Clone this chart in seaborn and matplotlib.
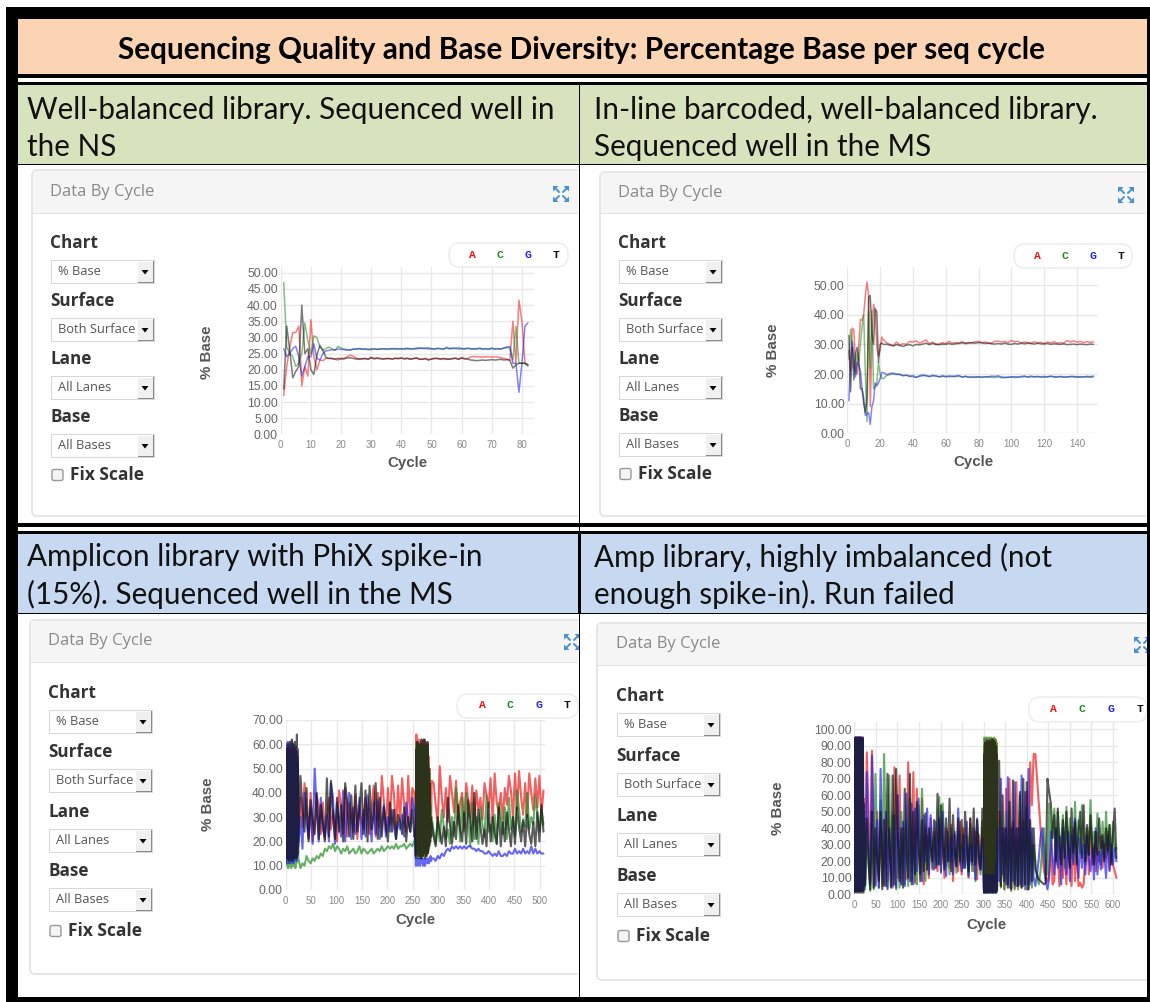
import numpy as np
import pandas as pd
import matplotlib
matplotlib.use("Agg")
import matplotlib.pyplot as plt
import seaborn as sns
from matplotlib.patches import Rectangle, FancyBboxPatch, Polygon

title = "Sequencing Quality and Base Diversity: Percentage Base per seq cycle"
captions = [
    ["Well-balanced library. Sequenced well in", "the NS"],
    ["In-line barcoded, well-balanced library.", "Sequenced well in the MS"],
    ["Amplicon library with PhiX spike-in", "(15%). Sequenced well in the MS"],
    ["Amp library, highly imbalanced (not", "enough spike-in). Run failed"],
]
bases = ["A", "C", "G", "T"]
control_labels = ["Chart", "Surface", "Lane", "Base"]
control_values = ["% Base", "Both Surface", "All Lanes", "All Bases"]

# each series is a list of stretches; the stretch start
# and step in cycles are in the *_runs lists
p1_runs = [(1, 1), (16, 1), (77, 1)]
p1_a = [[12, 21, 27, 31.5, 31.5, 33.5, 15, 21, 18, 35.5, 24, 20, 23, 22.8, 23.5],
        [23.5, 23.6, 23.2, 23, 23.6, 23.4, 24, 24.5, 24.2, 23.6, 23.2, 23.5, 23.4, 23.3, 23.9, 23.4, 23.8, 23.5, 23.3, 23.4, 23.5, 23.3, 23.6, 23.5, 23.7, 23.4, 23.6, 23.2, 23.5, 23.7, 23.2, 23.3, 23.5, 23.1, 23.3, 23.5, 23.6, 23.3, 23.5, 23.4, 23.2, 23.5, 23.6, 23.3, 23.8, 23.5, 23.4, 24, 24.1, 24, 24, 23.9, 24, 24, 23.9, 24, 23.9, 23.7, 23.5, 23.3, 23],
        [35, 22, 41.5, 35, 22, 21.5]]
p1_c = [[47, 27, 25, 24, 21, 22, 25, 34.5, 29, 25, 30.5, 30, 27, 26, 26.5],
        [27, 26.5, 26, 27.2, 26.7, 26.4, 26.3, 26.1, 26.3, 26.5, 26.4, 26.5, 26.3, 26.2, 26.5, 26.4, 26.3, 26.5, 26.4, 26.5, 26.4, 26.5, 26.3, 26.5, 26.4, 26.6, 26.4, 26.5, 26.4, 26.8, 26.5, 26.8, 26.5, 26.9, 26.5, 26.4, 26.6, 26.5, 26.4, 26.7, 26.4, 26.8, 26.5, 26.9, 26.6, 26.4, 26.7, 26.5, 26.4, 26.5, 26.7, 26.4, 26.5, 26.4, 26.7, 26.4, 26.5, 26.4, 26.7, 26.8, 26.7],
        [23, 33.5, 22, 22, 22, 21]]
p1_g = [[26.5, 24, 25, 26.5, 27.3, 24, 18, 21, 24, 24, 28, 23.5, 23, 25, 25.8],
        [26, 26.2, 26.1, 26.4, 26.3, 26.2, 26, 26.1, 26.4, 26.3, 26.6, 26.3, 26.5, 26.3, 26.2, 26.5, 26.3, 26.4, 26.5, 26.3, 26.4, 26.5, 26.6, 26.4, 26.5, 26.3, 26.7, 26.4, 26.5, 26.4, 26.8, 26.5, 26.7, 26.4, 26.5, 26.4, 26.6, 26.5, 26.4, 26.9, 26.6, 26.5, 26.7, 26.4, 26.5, 26.5, 26.6, 26.4, 26.5, 26.4, 26.6, 26.4, 26.5, 26.3, 26.6, 26.4, 26.5, 26.4, 26.7, 27.1, 27.2],
        [22, 22, 13, 22, 33.5, 34.5]]
p1_t = [[14, 33.5, 26, 17.5, 19.5, 21, 40, 25, 26.5, 20, 18.5, 24.5, 27.5, 26, 23.8],
        [23.5, 23.4, 23.3, 23.5, 23.3, 23.4, 23.6, 23.7, 23.5, 23.3, 23.4, 23.3, 23.5, 23.2, 23.7, 23.4, 23.5, 23.4, 23.3, 23.5, 23.4, 23.3, 23.5, 23.4, 23.6, 23.3, 23.5, 23.3, 23.4, 23.6, 23.3, 23.2, 23.4, 23, 23.3, 23.5, 23.4, 23.3, 23.4, 23.2, 23.3, 23.4, 23.5, 23.2, 23.6, 23.3, 23.3, 23, 22.9, 22.8, 22.9, 23, 22.9, 23, 23.1, 23, 23.1, 23.2, 23, 23.1, 22.9],
        [20.5, 21.5, 22, 22, 22, 21.5]]

p2_runs = [(1, 1), (24, 2)]
p2_a = [[28, 21, 35.5, 35, 22, 20, 30, 38.5, 38, 40, 46.5, 51, 46.5, 9, 30, 43.5, 41, 29, 26, 28, 32.5, 31.5],
        [30.5, 30, 29.5, 30.8, 29.8, 30.2, 30, 31, 30.8, 31.2, 30.4, 30.9, 31.5, 30.2, 30.8, 30, 30.1, 30.6, 30.3, 31, 30.4, 30.6, 30.5, 30.9, 30.2, 30.4, 30.6, 30.9, 31, 30.6, 30.8, 30.4, 30.5, 31, 31.1, 30.8, 31, 30.6, 31.3, 30.9, 31, 30.5, 30.8, 30.6, 30.4, 30.9, 30.5, 30.7, 30.3, 30.8, 30.5, 30.9, 30.4, 30.6, 30.5, 31.3, 30.8, 31.2, 30.7, 31, 30.6, 30.9, 30.7, 30.8]]
p2_c = [[25, 35, 29, 22, 20, 27, 24, 30, 36, 40, 20, 4, 41, 22, 41.5, 15, 15.5, 17, 24, 20, 18.5, 18.5],
        [19.5, 19.8, 20, 19.8, 20, 19.5, 19.6, 19.3, 19, 18.9, 19.2, 19.4, 19.5, 19.1, 19.3, 19.4, 19, 19.2, 19.3, 19, 19.2, 19.1, 19.3, 18.9, 19.2, 18.9, 19, 18.8, 19.1, 18.9, 19, 19.1, 18.9, 18.8, 19, 18.7, 18.9, 18.9, 19, 18.8, 19, 19.2, 19.3, 18.9, 19, 19.1, 19.2, 19, 18.9, 19.1, 19.2, 18.9, 19, 19.1, 18.9, 19, 19.2, 19, 19.1, 18.9, 19, 19, 18.9, 19]]
p2_g = [[11, 25, 31, 26, 19, 24, 23, 21, 15, 12, 6, 6.5, 7, 3, 9, 11, 17, 16, 17, 18.5, 20.5, 20.5],
        [19.8, 20.2, 20.3, 20, 19.8, 19.4, 19.6, 19.2, 19.5, 18.8, 19.4, 19.7, 19.4, 19.2, 19.6, 19.3, 19.1, 19.4, 19, 19.4, 19.2, 19.3, 19.5, 19, 19.2, 19, 18.9, 19.1, 19, 18.9, 19.1, 19, 19.3, 19.2, 19.4, 19, 18.8, 18.9, 19, 19.1, 18.9, 19, 19.2, 19, 19.3, 19, 19.1, 19, 19.2, 19, 19.3, 19.1, 19, 19.2, 19, 19, 19.1, 19.2, 18.9, 19.1, 19, 19.2, 19.1, 19.3]]
p2_t = [[33, 14, 29, 18, 27, 29, 25, 15, 15, 10, 7, 12, 46, 46.5, 33, 30, 42, 41, 24, 30, 30.5, 30],
        [30, 29.8, 29.5, 29.9, 29.6, 29.3, 29.7, 29.9, 29.5, 30, 29.8, 30.1, 30.4, 29.9, 30.3, 30, 29.9, 30.1, 30, 30.3, 30, 30.2, 30.3, 30.5, 30.4, 30.6, 30.5, 30.4, 30.6, 30.5, 30.3, 30.4, 30.2, 30.1, 30.3, 30.1, 30.4, 30.1, 30, 30.3, 30.1, 30.4, 30.2, 30.4, 30.3, 30.1, 30.4, 30.2, 30.1, 30.3, 30, 30.2, 30.1, 30, 30.2, 29.9, 30, 30.1, 29.9, 30.1, 30, 29.9, 30.1, 30]]

p3_runs = [(1, 1), (29, 4), (255, 1), (291, 4)]
p3_a = [[12, 58, 14, 57, 13, 59, 15, 56, 14, 58, 12, 57, 16, 59, 13, 56, 15, 58, 14, 57, 17, 55, 20, 52, 24],
        [38, 26, 44, 33, 22, 40, 20, 27, 39, 34, 23, 36, 21, 30, 38, 25, 33, 28, 20, 41, 35, 23, 42, 22, 36, 30, 24, 39, 21, 35, 28, 25, 38, 31, 23, 34, 43, 22, 40, 26, 47, 37, 24, 42, 27, 47, 39, 25, 43, 28, 46, 35, 24, 47, 29, 42, 40],
        [30, 14, 64, 15, 60, 13, 62, 16, 59, 14, 61, 13, 58, 15, 60, 14, 62, 16, 59, 13, 61, 15, 58, 14, 60, 16, 55, 18, 50, 20, 42, 25, 45],
        [44, 35, 27, 51, 38, 30, 42, 28, 47, 40, 32, 45, 27, 36, 40, 26, 44, 37, 30, 43, 27, 41, 33, 38, 29, 44, 39, 34, 46, 28, 48, 36, 32, 40, 29, 42, 35, 47, 41, 30, 48, 33, 49, 38, 31, 44, 30, 48, 40, 33, 46, 34, 47, 31, 41]]
p3_c = [[10, 56, 11, 55, 9, 57, 12, 54, 10, 56, 9, 55, 11, 57, 10, 54, 12, 56, 9, 55, 11, 53, 12, 50, 13],
        [9, 11, 10, 14, 12, 11, 13, 12, 14, 13, 15, 14, 17, 16, 18, 17, 19, 16, 18, 17, 15, 17, 16, 18, 15, 16, 17, 15, 16, 18, 15, 17, 16, 15, 16, 17, 15, 16, 17, 16, 18, 16, 17, 18, 17, 18, 17, 19, 17, 18, 18, 19, 17, 18, 19, 18, 20],
        [22, 13, 61, 14, 58, 13, 60, 15, 58, 13, 59, 14, 57, 13, 60, 15, 58, 14, 59, 13, 57, 14, 60, 15, 58, 16, 52, 17, 48, 19, 35, 22, 30],
        [24, 19, 28, 20, 33, 26, 21, 25, 19, 30, 22, 42, 34, 20, 38, 24, 40, 29, 18, 36, 21, 30, 19, 34, 27, 22, 39, 24, 27, 20, 31, 19, 36, 30, 23, 34, 21, 38, 25, 30, 22, 41, 33, 24, 28, 26, 40, 25, 30, 27, 39, 31, 24, 33, 27]]
p3_g = [[11, 60, 12, 61, 11, 59, 13, 60, 11, 58, 12, 61, 13, 59, 11, 60, 12, 58, 13, 59, 12, 57, 14, 55, 18],
        [30, 17, 40, 28, 21, 34, 19, 50, 33, 20, 38, 25, 22, 31, 20, 44, 38, 19, 36, 27, 22, 41, 20, 33, 40, 21, 34, 23, 29, 38, 21, 33, 22, 39, 30, 20, 36, 23, 37, 21, 26, 35, 22, 30, 24, 33, 26, 21, 28, 25, 31, 22, 36, 29, 24, 38, 32],
        [17, 10, 13, 11, 12, 10, 13, 11, 12, 10, 11, 13, 12, 11, 13, 10, 12, 11, 13, 10, 12, 11, 13, 12, 11, 13, 12, 11, 13, 12, 14, 12, 13],
        [13, 12, 14, 13, 15, 14, 16, 17, 16, 18, 17, 18, 17, 18, 17, 18, 17, 18, 18, 17, 17, 16, 17, 16, 16, 15, 15, 16, 15, 14, 15, 14, 16, 14, 14, 15, 14, 16, 15, 15, 17, 15, 16, 15, 17, 15, 16, 15, 18, 15, 17, 15, 16, 15, 15]]
p3_t = [[14, 58, 13, 60, 15, 59, 12, 61, 14, 60, 13, 62, 12, 59, 15, 60, 13, 61, 14, 60, 13, 64, 15, 58, 20],
        [47, 34, 24, 42, 20, 37, 29, 23, 40, 21, 35, 28, 20, 46, 22, 45, 30, 21, 38, 24, 35, 20, 44, 36, 22, 39, 21, 43, 24, 33, 44, 23, 41, 20, 43, 25, 31, 44, 21, 38, 22, 34, 27, 20, 36, 24, 33, 21, 31, 28, 23, 34, 20, 30, 24, 33, 22],
        [25, 14, 58, 16, 61, 15, 59, 14, 60, 16, 58, 13, 62, 15, 59, 14, 61, 16, 62, 15, 59, 14, 60, 16, 61, 15, 50, 18, 44, 20, 30, 22, 28],
        [22, 18, 30, 24, 19, 26, 18, 38, 27, 19, 28, 21, 35, 25, 20, 32, 19, 37, 28, 20, 40, 21, 33, 26, 19, 25, 18, 36, 20, 30, 23, 19, 34, 18, 28, 20, 32, 25, 18, 30, 19, 34, 26, 20, 29, 18, 31, 23, 19, 28, 18, 32, 20, 35, 24]]

p4_runs = [(1, 1), (25, 4), (300, 1), (336, 4)]
p4_a = [[2, 94, 3, 95, 2, 94, 3, 95, 2, 94, 3, 95, 2, 94, 3, 95, 2, 94, 3, 95, 4, 58],
        [10, 86, 52, 8, 87, 30, 6, 50, 12, 45, 28, 5, 48, 8, 40, 22, 4, 77, 55, 10, 72, 6, 40, 25, 9, 80, 47, 14, 74, 7, 64, 30, 13, 58, 6, 40, 22, 10, 46, 15, 38, 26, 14, 45, 18, 34, 10, 40, 28, 16, 42, 8, 36, 20, 14, 44, 12, 40, 18, 30, 10, 46, 25, 14, 38, 9, 36, 16, 40],
        [20, 2, 90, 3, 94, 2, 92, 3, 94, 2, 93, 4, 94, 3, 92, 2, 94, 3, 93, 4, 94, 2, 92, 3, 94, 2, 93, 3, 94, 2, 90, 3, 50],
        [50, 5, 40, 3, 64, 6, 70, 4, 42, 3, 68, 5, 50, 4, 45, 6, 62, 3, 80, 54, 85, 85, 70, 55, 40, 25, 14, 10, 8, 12, 30, 6, 8, 40, 22, 5, 35, 10, 28, 6, 38, 20, 5, 40, 8, 30, 5, 7, 4, 6, 25, 35, 12, 40, 18, 30, 14, 28, 20, 35, 16, 30, 22, 38, 15, 25, 18, 14, 10]]
p4_c = [[3, 93, 2, 94, 3, 93, 2, 94, 3, 93, 2, 94, 3, 93, 2, 94, 3, 93, 2, 94, 5, 50],
        [3, 40, 18, 2, 45, 3, 73, 30, 4, 57, 5, 85, 40, 4, 72, 5, 48, 20, 3, 40, 4, 50, 28, 6, 44, 5, 58, 8, 30, 15, 6, 54, 12, 64, 28, 8, 36, 14, 40, 16, 35, 22, 18, 59, 14, 55, 30, 17, 30, 12, 40, 20, 28, 13, 38, 18, 30, 24, 16, 35, 12, 42, 14, 30, 8, 38, 20, 12, 44],
        [45, 1, 95, 2, 94, 1, 95, 2, 94, 1, 95, 3, 94, 2, 95, 1, 94, 2, 95, 3, 93, 1, 94, 2, 95, 3, 94, 2, 93, 1, 92, 4, 45],
        [30, 4, 36, 3, 50, 6, 34, 2, 44, 4, 28, 3, 60, 5, 40, 3, 52, 6, 38, 4, 30, 20, 10, 6, 14, 28, 40, 20, 12, 55, 30, 40, 52, 18, 50, 22, 35, 48, 16, 53, 24, 46, 30, 20, 56, 22, 45, 25, 54, 36, 18, 40, 24, 57, 22, 38, 26, 49, 30, 18, 44, 22, 50, 24, 42, 20, 44, 26, 28]]
p4_g = [[2, 95, 2, 95, 3, 95, 2, 95, 2, 95, 3, 95, 2, 95, 2, 95, 3, 94, 2, 95, 3, 46],
        [5, 74, 30, 6, 84, 40, 5, 45, 4, 76, 25, 6, 50, 3, 40, 18, 5, 48, 4, 60, 22, 6, 44, 5, 61, 30, 8, 55, 6, 52, 14, 58, 26, 8, 48, 20, 52, 12, 48, 25, 15, 44, 18, 46, 13, 50, 22, 11, 38, 20, 35, 12, 38, 17, 52, 24, 14, 36, 16, 44, 11, 30, 18, 40, 9, 46, 20, 15, 34],
        [3, 1, 10, 2, 12, 1, 9, 2, 11, 1, 8, 2, 12, 1, 9, 2, 11, 3, 8, 1, 12, 2, 9, 1, 11, 2, 10, 1, 12, 2, 20, 3, 40],
        [8, 70, 12, 40, 6, 71, 4, 40, 8, 68, 5, 40, 6, 72, 5, 62, 3, 76, 6, 40, 10, 5, 12, 22, 35, 40, 25, 8, 3, 10, 38, 22, 12, 40, 16, 35, 6, 40, 26, 12, 38, 8, 36, 18, 46, 24, 10, 34, 16, 30, 12, 36, 22, 14, 28, 9, 40, 12, 26, 15, 32, 24, 10, 36, 14, 30, 18, 28, 20]]
p4_t = [[1, 95, 2, 95, 1, 95, 2, 94, 1, 95, 2, 95, 1, 95, 2, 94, 1, 95, 2, 94, 1, 55],
        [6, 46, 20, 3, 50, 4, 40, 22, 8, 50, 3, 45, 5, 73, 30, 4, 72, 6, 76, 35, 8, 40, 4, 64, 25, 10, 73, 6, 50, 12, 56, 30, 8, 45, 14, 49, 15, 40, 28, 20, 45, 16, 61, 18, 54, 30, 15, 46, 20, 58, 14, 48, 26, 17, 46, 20, 45, 16, 50, 30, 14, 46, 20, 52, 18, 45, 24, 15, 52],
        [30, 1, 85, 2, 92, 1, 90, 2, 93, 1, 92, 2, 91, 1, 93, 2, 92, 1, 90, 2, 94, 1, 91, 2, 93, 1, 92, 2, 90, 1, 85, 2, 48],
        [81, 5, 60, 8, 40, 4, 56, 3, 69, 6, 40, 5, 62, 4, 70, 6, 68, 3, 45, 8, 40, 15, 12, 9, 8, 7, 6, 7, 70, 62, 55, 34, 48, 20, 52, 30, 18, 45, 22, 50, 28, 16, 52, 25, 44, 18, 38, 50, 22, 54, 20, 42, 24, 48, 30, 18, 38, 24, 46, 28, 36, 20, 40, 26, 42, 18, 36, 52, 22]]

# axes box in pixels (left, top, right, bottom), axis ranges and ticks per panel
panels = [
    dict(runs=p1_runs, series=[p1_a, p1_c, p1_g, p1_t], box=(280.7, 267, 534, 434.3), xmax=84, ymax=51.8,
         xticks=range(0, 81, 10), yticks=range(0, 51, 5), card=(32, 170, 578, 516), head=213, ty=192, tx=50,
         rows=[243, 301, 359, 417], fix=475, icon=(561, 194), pill=(449, 243, 568, 267), letters=[472, 500, 528, 556],
         ylab=(207, 352), xlab=(407, 463), lw=1.1, alpha=0.55),
    dict(runs=p2_runs, series=[p2_a, p2_c, p2_g, p2_t], box=(847.3, 266.7, 1098.3, 433.3), xmax=153, ymax=56.2,
         xticks=range(0, 141, 20), yticks=range(0, 51, 10), card=(600, 172, 1146, 516), head=213, ty=193, tx=618,
         rows=[243, 301, 359, 416], fix=474, icon=(1126, 195), pill=(1014, 244, 1132, 268), letters=[1037, 1065, 1093, 1121],
         ylab=(773, 350), xlab=(973, 462), lw=1.1, alpha=0.55),
    dict(runs=p3_runs, series=[p3_a, p3_c, p3_g, p3_t], box=(285.7, 720, 545, 890), xmax=510, ymax=70,
         xticks=range(0, 501, 50), yticks=range(0, 71, 10), card=(30, 620, 578, 974), head=662, ty=641, tx=48,
         rows=[693, 752, 812, 871], fix=931, icon=(572, 642), pill=(457, 694, 578, 718), letters=[482, 510, 539, 567],
         ylab=(208, 804), xlab=(415, 920), lw=1.5, alpha=0.68),
    dict(runs=p4_runs, series=[p4_a, p4_c, p4_g, p4_t], box=(854.3, 721.7, 1117.7, 894.3), xmax=611, ymax=104.6,
         xticks=range(0, 601, 50), yticks=range(0, 101, 10), card=(597, 623, 1147, 980), head=665, ty=644, tx=616,
         rows=[696, 756, 816, 876], fix=936, icon=(1142, 645), pill=(1029, 697, 1147, 722), letters=[1053, 1082, 1111, 1140],
         ylab=(778, 808), xlab=(986, 925), lw=1.5, alpha=0.68),
]

base_colors = {"A": "#f01414", "C": "#1f8a1f", "G": "#2020e8", "T": "#111111"}

W, H = 1150, 1002
sns.set_theme(style="white")
fig = plt.figure(figsize=(W / 100, H / 100), dpi=100, facecolor="white")
bg = fig.add_axes([0, 0, 1, 1])
bg.set_xlim(0, W)
bg.set_ylim(H, 0)
bg.axis("off")


def rect(x0, y0, x1, y1, color, z=1, **kw):
    bg.add_patch(Rectangle((x0, y0), x1 - x0, y1 - y0, facecolor=color, edgecolor="none", zorder=z, **kw))


def draw_frame():
    rect(6, 7, 18, 1002, "black")
    rect(6, 7, W, 19, "black")
    rect(6, 997, W, H, "black", z=8)
    rect(1147, 7, W, H, "black", z=8)
    rect(18, 19, 1147, 74, "#fbd4b4")
    rect(18, 74, 1147, 78, "black")
    rect(18, 82, 1147, 85, "black")
    rect(18, 85, 1147, 164, "#d7e3bc")
    rect(18, 164, 1147, 165.3, "black")
    rect(18, 523, 1147, 527, "black", z=2)
    rect(18, 531, 1147, 534, "black", z=2)
    rect(18, 534, 1147, 613, "#c6d9f1")
    rect(18, 613, 1147, 614, "black")
    rect(579, 85, 580, 997, "black", z=6)
    rect(578, 534, 580.5, 613, "black", z=6)
    bg.text(581, 50, title, ha="center", va="center", family="Lato", weight="bold", fontsize=21.4, color="black")
    for i, lines in enumerate(captions):
        x = 27 if i % 2 == 0 else 594
        y = 110 if i < 2 else 557
        bg.text(x, y, lines[0], ha="left", va="center", family="Lato", fontsize=21.3, color="#111111")
        bg.text(x, y + 37, lines[1], ha="left", va="center", family="Lato", fontsize=21.3, color="#111111")


def draw_icon(cx, cy, clip_x):
    clip = Rectangle((0, 0), clip_x, H, transform=bg.transData)
    s = 8
    for sx in (-1, 1):
        for sy in (-1, 1):
            tri = Polygon([(cx + sx * s, cy + sy * s), (cx + sx * 2.5, cy + sy * s), (cx + sx * s, cy + sy * 2.5)],
                          facecolor="#4a90d0", edgecolor="none", zorder=4)
            bg.add_patch(tri)
            tri.set_clip_path(clip)
            ln, = bg.plot([cx + sx * 2, cx + sx * 6], [cy + sy * 2, cy + sy * 6], color="#4a90d0", lw=1.4, zorder=4)
            ln.set_clip_path(clip)


def draw_dropdown(x0, y0, text):
    x1, y1 = x0 + 102, y0 + 22
    rect(x0 - 1, y0 - 1, x1 + 1, y1 + 1, "#d8d8d8", z=3)
    rect(x0, y0, x1, y1, "white", z=3)
    rect(x1 - 16, y0 + 1, x1, y1, "#f0f0f0", z=3)
    rect(x1 - 1.5, y0, x1, y1, "#8a8a8a", z=3)
    rect(x1 - 16, y1 - 1.5, x1, y1, "#8a8a8a", z=3)
    mx, my = x1 - 9, y0 + 11
    bg.add_patch(Polygon([(mx - 3.5, my - 2), (mx + 3.5, my - 2), (mx, my + 2.5)], facecolor="black", edgecolor="none", zorder=4))
    bg.text(x0 + 5.5, y0 + 10.5, text, ha="left", va="center", family="Open Sans", fontsize=9.3, color="#555555", zorder=4)


def draw_controls(p):
    x0, y0, x1, y1 = p["card"]
    card = FancyBboxPatch((x0, y0), x1 + 12 - x0, y1 - y0, boxstyle="round,pad=0,rounding_size=5",
                          facecolor="white", edgecolor="#e2e2e2", lw=1.2, zorder=2)
    bg.add_patch(card)
    card.set_clip_path(Rectangle((0, 0), x1, H, transform=bg.transData))
    rect(x0 + 1, y0 + 1, x1, p["head"], "#f5f5f5", z=2.5)
    rect(x0 + 1, p["head"], x1, p["head"] + 1, "#e3e3e3", z=2.5)
    bg.text(p["tx"], p["ty"], "Data By Cycle", ha="left", va="center", family="Open Sans", fontsize=12, color="#8a8a8a", zorder=4)
    for label, value, y in zip(control_labels, control_values, p["rows"]):
        bg.text(p["tx"], y, label, ha="left", va="center", family="Open Sans", weight="bold", fontsize=12.3, color="#333333", zorder=4)
        draw_dropdown(p["tx"] + 2, y + 18, value)
    bg.add_patch(FancyBboxPatch((p["tx"] + 2, p["fix"] - 5.5), 11, 11, boxstyle="round,pad=0,rounding_size=2",
                                facecolor="#f4f4f4", edgecolor="#999999", lw=1, zorder=4))
    bg.text(p["tx"] + 20, p["fix"], "Fix Scale", ha="left", va="center", family="Open Sans", weight="bold", fontsize=12.5, color="#333333", zorder=4)
    draw_icon(p["icon"][0], p["icon"][1], 1147 if x0 > 579 else 579)
    # legend pill
    lx0, ly0, lx1, ly1 = p["pill"]
    bg.add_patch(FancyBboxPatch((lx0, ly0), lx1 - lx0, ly1 - ly0, boxstyle="round,pad=0,rounding_size=11",
                                facecolor="white", edgecolor="#eeeeee", lw=1.2, zorder=5))
    for b, lx in zip(bases, p["letters"]):
        bg.text(lx, (ly0 + ly1) / 2 - 0.5, b, ha="center", va="center", family="Liberation Mono", weight="bold",
                fontsize=8.2, color=base_colors[b], zorder=6)


def to_frame(runs, series):
    rows = []
    for base, stretches in zip(bases, series):
        for (start, step), values in zip(runs, stretches):
            for i, v in enumerate(values):
                rows.append((start + step * i, v, base))
    return pd.DataFrame(rows, columns=["Cycle", "Percent", "Base"])


def draw_chart(p):
    left, top, right, bottom = p["box"]
    ax = fig.add_axes([left / W, 1 - bottom / H, (right - left) / W, (bottom - top) / H], facecolor="none", zorder=5)
    df = to_frame(p["runs"], p["series"])
    sns.lineplot(data=df, x="Cycle", y="Percent", hue="Base", palette=base_colors, hue_order=bases,
                 estimator=None, sort=False, legend=False, alpha=p["alpha"], lw=p["lw"], ax=ax, zorder=3)
    ax.set_xlim(0, p["xmax"])
    ax.set_ylim(0, p["ymax"])
    ax.set_xticks(list(p["xticks"]))
    ax.set_yticks(list(p["yticks"]))
    ax.set_yticklabels([f"{v:.2f}" for v in p["yticks"]], fontsize=8.8, color="#666666", family="Liberation Sans")
    ax.set_xticklabels([str(v) for v in p["xticks"]], fontsize=7, color="#888888", family="Liberation Sans")
    ax.tick_params(axis="y", length=0, pad=2)
    ax.tick_params(axis="x", length=2, width=0.7, color="#cccccc", pad=2)
    ax.grid(True, color="#e8e8e8", lw=1)
    ax.set_axisbelow(True)
    for side in ax.spines:
        ax.spines[side].set_visible(False)
    ax.set_xlabel("")
    ax.set_ylabel("")
    bg.text(p["xlab"][0], p["xlab"][1], "Cycle", ha="center", va="center", family="Liberation Sans", weight="bold", fontsize=10.8, color="#555555", zorder=4)
    bg.text(p["ylab"][0], p["ylab"][1], "% Base", ha="center", va="center", rotation=90, family="Liberation Sans", weight="bold", fontsize=10.8, color="#555555", zorder=4)


draw_frame()
for p in panels:
    draw_controls(p)
    draw_chart(p)

fig.savefig("out.png", dpi=100)
